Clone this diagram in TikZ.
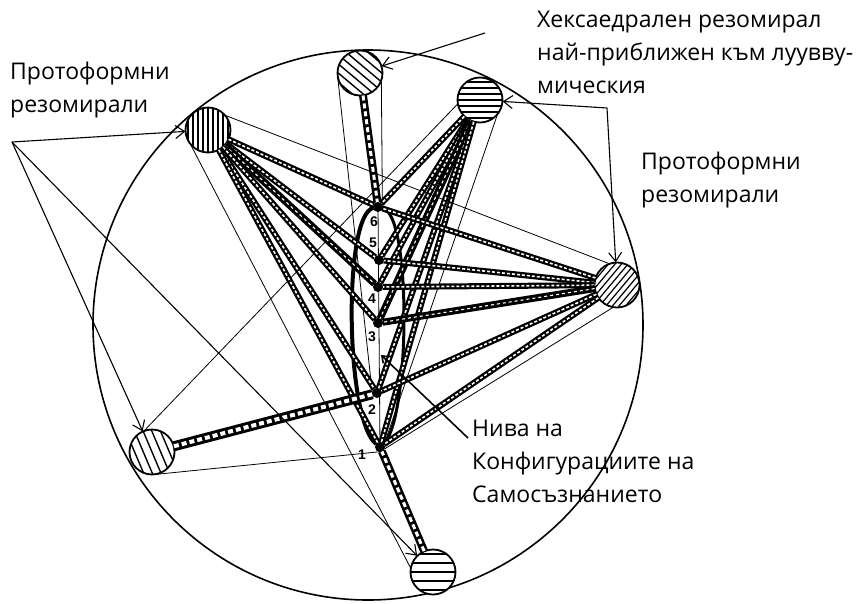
\documentclass[tikz,border=0pt]{standalone}
\usepackage{fontspec}
\setmainfont{Open Sans}
\newfontfamily\numfont{Liberation Sans}
\usetikzlibrary{arrows.meta}
\newcommand\hatchres[4]{%
 \begin{scope}
 \clip (#1.center) circle (22.5pt);
 \begin{scope}[shift={(#1.center)}, rotate=#2]
 \foreach \k in {-10,...,10} {\draw[line width=#4] (-40,\k*#3) -- (40,\k*#3);}
 \end{scope}
 \end{scope}
 \draw[line width=1.8pt] (#1.center) circle (22.5pt);}
\begin{document}
\begin{tikzpicture}[x=1pt,y=-1pt,
 ladder/.style={line width=6pt, draw=black, postaction={draw=white, line width=1.6pt, dash pattern=on 3pt off 2pt}},
 darkladder/.style={line width=7pt, draw=black, postaction={draw=white, line width=1.1pt, dash pattern=on 3pt off 3pt}},
 bigladder/.style={line width=10pt, draw=black, postaction={draw=white, line width=4pt, dash pattern=on 5pt off 3pt}},
 midladder/.style={line width=8pt, draw=black, postaction={draw=white, line width=3pt, dash pattern=on 5pt off 3pt}},
 thinl/.style={line width=0.8pt},
 arr/.style={line width=1.1pt, -{Straight Barb[length=9pt,width=13pt]}},
 res/.style={circle, minimum size=45pt, inner sep=0pt, fill=white},
 lvl/.style={circle, fill=black, inner sep=0pt, minimum size=9pt},
 lab/.style={font=\fontsize{23}{33}\selectfont, align=left, anchor=north west, inner sep=0pt},
 num/.style={font=\numfont\bfseries\fontsize{14}{14}\selectfont, inner sep=0pt}
]
\useasboundingbox (0,0) rectangle (867,603);
% big circle
\node[circle, draw, line width=1.6pt, minimum size=550pt, inner sep=0pt] (BIG) at (368,325) {};
% resomirals
\node[res] (P1) at (360,73) {};
\node[res] (P2) at (480,100) {};
\node[res] (P3) at (617,285) {};
\node[res] (P4) at (433,572) {};
\node[res] (P5) at (152,452) {};
\node[res] (P6) at (208,130) {};
\hatchres{P1}{-40}{7}{1.4pt}
\hatchres{P2}{0}{6}{1.3pt}
\hatchres{P3}{50}{5}{1.2pt}
\hatchres{P4}{0}{9}{1.6pt}
\hatchres{P5}{-67}{8}{1.4pt}
\hatchres{P6}{90}{5}{1.1pt}
% levels
\node[lvl] (N1) at (380,447) {};
\node[lvl] (N2) at (377,393) {};
\node[lvl] (N3) at (378,323) {};
\node[lvl] (N4) at (378,287) {};
\node[lvl] (N5) at (379,260) {};
\node[lvl] (N6) at (378,207) {};
% thin lines
\draw[thinl] (P6.40) -- (P3.110);
\draw[thinl] (P6.220) -- (P4.170);
\draw[thinl] (P5.110) -- (P2.190);
\draw[thinl] (P5.280) -- (N1.270) -- (P3.260);
\draw[thinl] (P1.190) -- (N2.180);
\draw[thinl] (P1.340) -- (N6.20);
\draw[thinl] (P2.320) -- (N1.30);
\draw[thinl] (N1) -- (N6);
% lens
\draw[line width=4pt] (N6) .. controls (343,214) and (345,420) .. (N1);
\draw[line width=3pt] (N6) .. controls (412,214) and (410,420) .. (N1);
% fan from P6
\draw[ladder] (P6) -- (N6);
\draw[ladder] (P6) -- (N5);
\draw[darkladder] (P6) -- (N4);
\draw[ladder] (P6) -- (N3);
\draw[ladder] (P6) -- (N2);
\draw[ladder] (P6) -- (N1);
% fan from P2
\draw[ladder] (P2) -- (N6);
\draw[ladder] (P2) -- (N5);
\draw[ladder] (P2) -- (N4);
\draw[darkladder] (P2) -- (N3);
\draw[ladder] (P2) -- (N2);
\draw[ladder] (P2) -- (N1);
% fan from P3
\draw[ladder] (P3) -- (N6);
\draw[ladder] (P3) -- (N5);
\draw[ladder] (P3) -- (N4);
\draw[darkladder] (P3) -- (N3);
\draw[ladder] (P3) -- (N2);
\draw[ladder] (P3) -- (N1);
% single ladders
\draw[midladder] (P1) -- (N6);
\draw[bigladder] (P5) -- (N2);
\draw[midladder] (P4) -- (N1);
% level nodes on top
\foreach \n in {N1,N2,N3,N4,N5,N6} {\fill (\n) circle (5pt);}
% numbers
\node[num] (n6) at (374,222) {6};
\node[num] (n5) at (373,243) {5};
\node[num] (n4) at (372,299) {4};
\node[num] (n3) at (372,337) {3};
\node[num] (n2) at (372,410) {2};
\node[num] (n1) at (362,455) {1};
% labels
\node[lab] (LT) at (10,62) {Протоформни\\резомирали};
\node[lab] (LR) at (641,152) {Протоформни\\резомирали};
\node[lab] (LH) at (537,11) {Хексаедрален резомирал\\най-приближен към луувву-\\мическия};
\node[lab] (LN) at (472,420) {Нива на\\Конфигурациите на\\Самосъзнанието};
% arrows
\coordinate (A1) at (12,142);
\draw[arr] (A1) -- (P6);
\draw[arr] (A1) -- (P5);
\draw[arr] (A1) -- (P4);
\coordinate (A2) at (485,33);
\draw[arr] (A2) -- (P1);
\coordinate (A3) at (607,108);
\draw[arr] (A3) -- (P2);
\draw[arr] (A3) -- (P3);
\coordinate (A4) at (468,438);
\coordinate (A5) at (381,355);
\draw[line width=1.6pt, -{Straight Barb[length=6pt,width=9pt]}] (A4) -- (A5);
\end{tikzpicture}
\end{document}
